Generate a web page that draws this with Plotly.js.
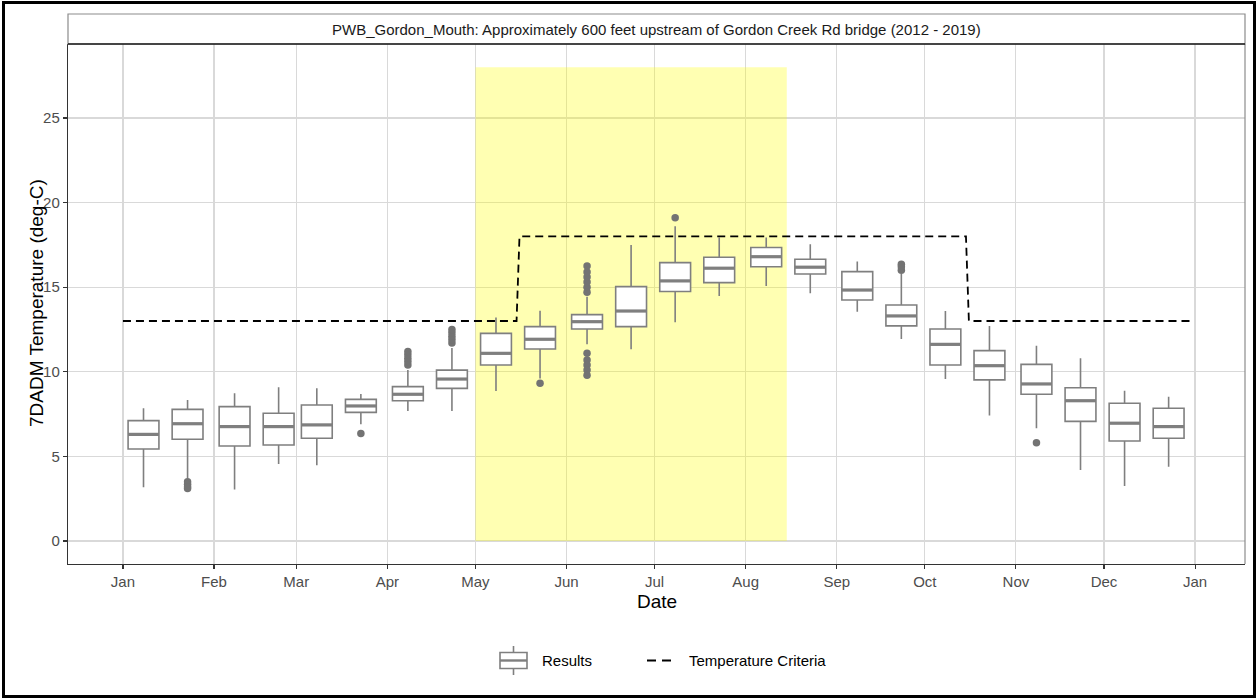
<!DOCTYPE html>
<html>
<head>
<meta charset="utf-8">
<script src="https://cdn.plot.ly/plotly-3.0.1.min.js"></script>
<style>
  html, body { margin: 0; padding: 0; background: #fff; }
  #wrap { position: relative; width: 1257px; height: 698px; }
  #chart { position: absolute; left: 0; top: 0; width: 1257px; height: 698px; }
  #frame { position: absolute; left: 2px; top: 1px; width: 1254px; height: 697px; border: 3px solid #000; box-sizing: border-box; pointer-events: none; }
</style>
</head>
<body>
<div id="wrap">
  <div id="chart"></div>
  <div id="frame"></div>
</div>
<script>
// ---- Data ----
const boxDates = ["2021-01-08","2021-01-23","2021-02-08","2021-02-23","2021-03-08","2021-03-23",
                  "2021-04-08","2021-04-23","2021-05-08","2021-05-23","2021-06-08","2021-06-23",
                  "2021-07-08","2021-07-23","2021-08-08","2021-08-23","2021-09-08","2021-09-23",
                  "2021-10-08","2021-10-23","2021-11-08","2021-11-23","2021-12-08","2021-12-23"];
const lowerWhisker = [3.17, 3.70, 3.05, 4.55, 4.47, 6.90, 7.68, 7.68, 8.87, 9.60, 11.62, 11.33,
                      12.93, 14.48, 15.07, 14.64, 13.55, 11.94, 9.57, 7.41, 6.66, 4.20, 3.25, 4.39];
const q1Values     = [5.44, 6.01, 5.61, 5.67, 6.07, 7.60, 8.29, 9.02, 10.40, 11.35, 12.53, 12.67,
                      14.74, 15.27, 16.21, 15.78, 14.24, 12.71, 10.40, 9.52, 8.67, 7.07, 5.91, 6.07];
const medianValues = [6.30, 6.93, 6.76, 6.76, 6.86, 7.98, 8.67, 9.57, 11.09, 11.92, 12.96, 13.59,
                      15.37, 16.12, 16.80, 16.18, 14.83, 13.30, 11.62, 10.36, 9.28, 8.29, 6.96, 6.76];
const q3Values     = [7.11, 7.78, 7.94, 7.55, 8.04, 8.37, 9.12, 10.10, 12.27, 12.67, 13.38, 15.03,
                      16.45, 16.77, 17.34, 16.65, 15.92, 13.95, 12.53, 11.25, 10.44, 9.06, 8.14, 7.84];
const upperWhisker = [7.84, 8.33, 8.73, 9.08, 9.02, 8.69, 10.10, 11.40, 13.20, 13.60, 14.44, 17.49,
                      18.60, 17.93, 17.93, 17.54, 16.51, 15.78, 13.59, 12.71, 11.54, 10.80, 8.88, 8.53];

const outlierDates  = ["2021-01-23","2021-01-23","2021-01-23","2021-01-23",
                       "2021-03-23",
                       "2021-04-08","2021-04-08","2021-04-08","2021-04-08","2021-04-08",
                       "2021-04-23","2021-04-23","2021-04-23","2021-04-23","2021-04-23",
                       "2021-05-23",
                       "2021-06-08","2021-06-08","2021-06-08","2021-06-08","2021-06-08","2021-06-08",
                       "2021-06-08","2021-06-08","2021-06-08","2021-06-08","2021-06-08",
                       "2021-07-08",
                       "2021-09-23","2021-09-23","2021-09-23",
                       "2021-11-08"];
const outlierValues = [3.50, 3.35, 3.20, 3.10,
                       6.35,
                       10.40, 10.60, 10.80, 11.00, 11.20,
                       11.70, 11.90, 12.10, 12.30, 12.50,
                       9.32,
                       14.70, 15.00, 15.30, 15.60, 15.90, 16.25,
                       11.10, 10.70, 10.40, 10.10, 9.80,
                       19.10,
                       16.00, 16.20, 16.35,
                       5.81];

const criteriaDates  = ["2021-01-01","2021-05-15","2021-05-16","2021-10-15","2021-10-16","2021-12-31"];
const criteriaValues = [13, 13, 18, 18, 13, 13];

const spawnPeriod = ["2021-05-01", "2021-08-15"];
const spawnRange  = [0, 28];

const monthLabels = ["Jan","Feb","Mar","Apr","May","Jun","Jul","Aug","Sep","Oct","Nov","Dec","Jan"];
const monthTicks  = ["2021-01-01","2021-02-01","2021-03-01","2021-04-01","2021-05-01","2021-06-01",
                     "2021-07-01","2021-08-01","2021-09-01","2021-10-01","2021-11-01","2021-12-01","2022-01-01"];

const titleText = "PWB_Gordon_Mouth: Approximately 600 feet upstream of Gordon Creek Rd bridge (2012 - 2019)";
const xTitle = "Date";
const yTitle = "7DADM Temperature (deg-C)";
const legendNames = ["Results", "Temperature Criteria"];

// ---- Styling / geometry ----
const W = 1257, H = 698;
const M = { l: 68, r: 12, t: 44, b: 134 };
const PW = W - M.l - M.r, PH = H - M.t - M.b;
const px2x = px => (px - M.l) / PW;       // pixel -> paper x
const py2y = py => (H - M.b - py) / PH;   // pixel -> paper y

const DAY = 86400000;
const boxWidth = 10.5 * DAY;
const grey = "#7f7f7f";
const fontFam = "Liberation Sans, Arial, sans-serif";

const medX = [], medY = [];
boxDates.forEach((d, i) => {
  const t = Date.parse(d);
  medX.push(t - boxWidth / 2, t + boxWidth / 2, null);
  medY.push(medianValues[i], medianValues[i], null);
});

const traces = [
  {
    type: "box", name: legendNames[0],
    x: boxDates, q1: q1Values, median: medianValues, q3: q3Values,
    lowerfence: lowerWhisker, upperfence: upperWhisker,
    width: boxWidth, whiskerwidth: 0, boxpoints: false,
    fillcolor: "#ffffff", line: { color: grey, width: 1.6 },
    hoverinfo: "skip", showlegend: false
  },
  {
    type: "scatter", mode: "lines", x: medX, y: medY,
    line: { color: grey, width: 3.2 }, showlegend: false, hoverinfo: "skip"
  },
  {
    type: "scatter", mode: "markers", x: outlierDates, y: outlierValues,
    marker: { color: "#737373", size: 7.5 }, showlegend: false, hoverinfo: "skip"
  },
  {
    type: "scatter", mode: "lines", name: legendNames[1],
    x: criteriaDates, y: criteriaValues,
    line: { color: "#000000", width: 1.8, dash: "8px,5px" }, hoverinfo: "skip", showlegend: false
  }
];

const stripTop = py2y(14);
const legY = py2y(660.5);

const layout = {
  width: W, height: H,
  margin: M,
  paper_bgcolor: "#ffffff", plot_bgcolor: "#ffffff",
  font: { family: fontFam, color: "#000" },
  showlegend: false,
  xaxis: {
    type: "date", range: ["2020-12-13 07:00", "2022-01-18"],
    tickvals: monthTicks, ticktext: monthLabels,
    ticks: "outside", ticklen: 4, tickwidth: 1.1, tickcolor: "#333",
    showgrid: true, gridcolor: "#d9d9d9", gridwidth: 1.2,
    showline: true, linecolor: "#333", linewidth: 1.2, zeroline: false,
    tickfont: { size: 15, color: "#4d4d4d", family: fontFam },
    automargin: false
  },
  yaxis: {
    range: [-1.36, 29.37], tickmode: "linear", tick0: 0, dtick: 5,
    ticks: "outside", ticklen: 4, tickwidth: 1.1, tickcolor: "#333",
    showgrid: true, gridcolor: "#d9d9d9", gridwidth: 1.2,
    showline: true, linecolor: "#333", linewidth: 1.2, zeroline: false,
    tickfont: { size: 15, color: "#4d4d4d", family: fontFam },
    automargin: false
  },
  shapes: [
    { type: "rect", xref: "x", yref: "y", x0: spawnPeriod[0], x1: spawnPeriod[1], y0: spawnRange[0], y1: spawnRange[1],
      fillcolor: "rgba(255,255,0,0.3)", line: { width: 0 }, layer: "between" },
    { type: "line", xref: "paper", yref: "paper", x0: 1, x1: 1, y0: 0, y1: 1, line: { color: "#8c8c8c", width: 1.2 } },
    { type: "rect", xref: "paper", yref: "paper", x0: 0, x1: 1, y0: 1, y1: stripTop, fillcolor: "#ffffff", line: { color: "#8c8c8c", width: 1.2 } },
    { type: "line", xref: "paper", yref: "paper", x0: 0, x1: 1, y0: 1, y1: 1, line: { color: "#1a1a1a", width: 1.6 } },
    // legend key: box
    { type: "line", xref: "paper", yref: "paper", x0: px2x(513.5), x1: px2x(513.5), y0: py2y(646), y1: py2y(675), line: { color: grey, width: 1.6 } },
    { type: "rect", xref: "paper", yref: "paper", x0: px2x(500), x1: px2x(527), y0: py2y(652.5), y1: py2y(668.5), fillcolor: "#ffffff", line: { color: grey, width: 1.6 } },
    { type: "line", xref: "paper", yref: "paper", x0: px2x(500), x1: px2x(527), y0: legY, y1: legY, line: { color: grey, width: 2.4 } },
    // legend key: dashed line
    { type: "line", xref: "paper", yref: "paper", x0: px2x(647), x1: px2x(672), y0: legY, y1: legY, line: { color: "#000", width: 2.2, dash: "9px,6px" } }
  ],
  annotations: [
    { xref: "paper", yref: "paper", x: 0.5, y: (1 + stripTop) / 2, xanchor: "center", yanchor: "middle",
      text: titleText, showarrow: false, font: { size: 15, color: "#1a1a1a", family: fontFam } },
    { xref: "paper", yref: "paper", x: 0.5, y: py2y(601), xanchor: "center", yanchor: "middle",
      text: xTitle, showarrow: false, font: { size: 19, color: "#000", family: fontFam } },
    { xref: "paper", yref: "paper", x: px2x(36), y: py2y(303), xanchor: "center", yanchor: "middle", textangle: -90,
      text: yTitle, showarrow: false, font: { size: 19, color: "#000", family: fontFam } },
    { xref: "paper", yref: "paper", x: px2x(540), y: legY, xanchor: "left", yanchor: "middle",
      text: legendNames[0], showarrow: false, font: { size: 15, color: "#000", family: fontFam } },
    { xref: "paper", yref: "paper", x: px2x(687), y: legY, xanchor: "left", yanchor: "middle",
      text: legendNames[1], showarrow: false, font: { size: 15, color: "#000", family: fontFam } }
  ]
};

Plotly.newPlot("chart", traces, layout, { staticPlot: true, displayModeBar: false });
</script>
</body>
</html>
